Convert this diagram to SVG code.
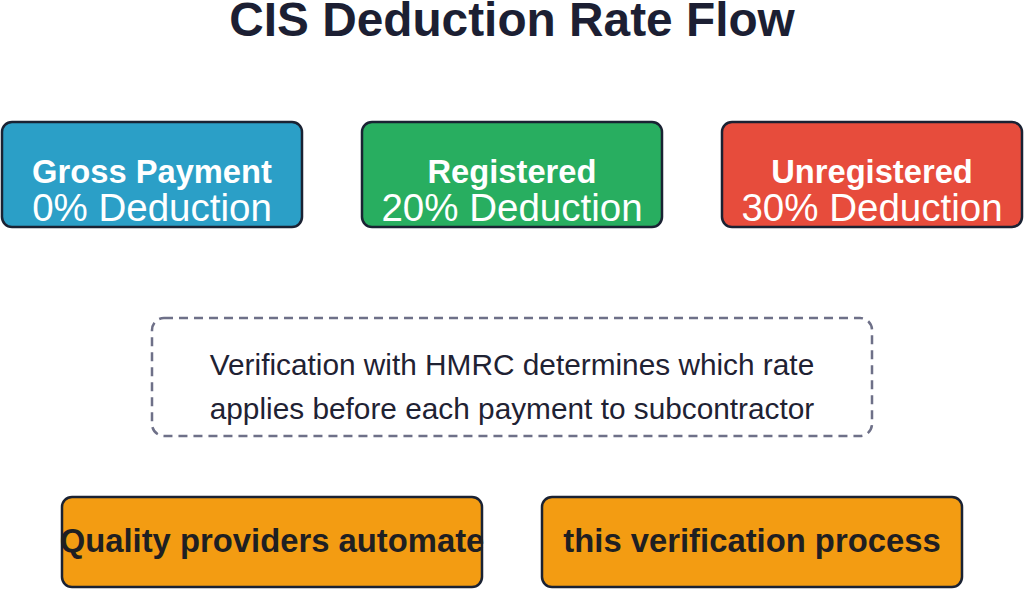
<svg xmlns="http://www.w3.org/2000/svg" width="1024" height="589" viewBox="0 0 1024 589">
<style>
.box{stroke:#1a2233;stroke-width:2.5}
.t{font-family:"Liberation Sans",Arial,sans-serif;text-anchor:middle}
.b{font-weight:bold;font-size:32.7px;fill:#ffffff}
.r{font-size:38.5px;fill:#ffffff}
.d{font-size:29.8px;fill:#1f2233}
.o{font-weight:bold;font-size:32.8px;fill:#1f1f22}
</style>
<rect width="1024" height="589" fill="#ffffff"/>
<text class="t" x="512" y="36" font-size="47.8" font-weight="bold" fill="#1c1f33">CIS Deduction Rate Flow</text>
<g id="gross">
<rect class="box" x="2" y="122" width="300" height="105" rx="10" fill="#2b9fc7"/>
<text class="t b" x="152" y="183">Gross Payment</text>
<text class="t r" x="152" y="221">0% Deduction</text>
</g>
<g id="registered">
<rect class="box" x="362" y="122" width="300" height="105" rx="10" fill="#28ae60"/>
<text class="t b" x="512" y="183">Registered</text>
<text class="t r" x="512" y="221">20% Deduction</text>
</g>
<g id="unregistered">
<rect class="box" x="722" y="122" width="300" height="105" rx="10" fill="#e74c3c"/>
<text class="t b" x="872" y="183">Unregistered</text>
<text class="t r" x="872" y="221">30% Deduction</text>
</g>
<g id="verification">
<rect x="152" y="318" width="720" height="118" rx="12" fill="none" stroke="#6e7088" stroke-width="2.5" stroke-dasharray="9,6"/>
<text class="t d" x="512" y="375">Verification with HMRC determines which rate</text>
<text class="t d" x="512" y="419">applies before each payment to subcontractor</text>
</g>
<g id="quality">
<rect class="box" x="62" y="497" width="420" height="90" rx="10" fill="#f39c12"/>
<text class="t o" x="272" y="552">Quality providers automate</text>
</g>
<g id="process">
<rect class="box" x="542" y="497" width="420" height="90" rx="10" fill="#f39c12"/>
<text class="t o" x="752" y="552">this verification process</text>
</g>
<g id="connectors"></g>
</svg>
